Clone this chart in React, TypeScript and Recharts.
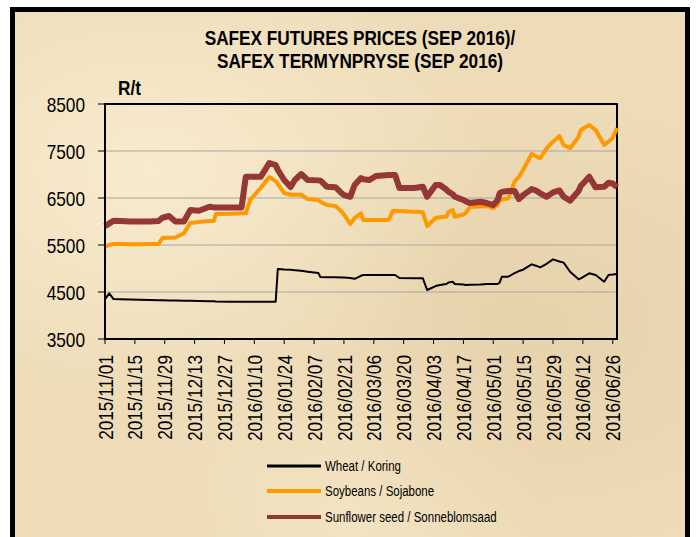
import { LineChart, Line, XAxis, YAxis, CartesianGrid, ReferenceArea, Legend } from 'recharts';

// days counted from 2015/11/01
const days = [
  0, 2, 4, 7, 12, 16, 21, 25, 27, 30,
  33, 37, 40, 44, 49, 51, 52, 59, 64, 66,
  68, 73, 77, 80, 81, 84, 87, 89, 92, 95,
  100, 101, 104, 108, 111, 112, 115, 117, 120, 121,
  124, 127, 133, 135, 136, 138, 145, 149, 151, 155,
  157, 160, 161, 163, 164, 168, 169, 171, 176, 179,
  182, 184, 185, 186, 189, 192, 194, 196, 200, 202,
  204, 207, 210, 213, 215, 218, 222, 223, 227, 230,
  234, 236, 238, 240,
];

const wheat = [
  4350, 4470, 4350, 4345, 4340, 4335, 4330, 4325, 4325, 4320,
  4320, 4315, 4315, 4310, 4305, 4305, 4300, 4295, 4293, 4293,
  4293, 4293, 4293, 4293, 4989, 4980, 4975, 4965, 4950, 4931,
  4904, 4819, 4815, 4812, 4810, 4810, 4800, 4780, 4845, 4861,
  4861, 4861, 4861, 4861, 4861, 4797, 4795, 4790, 4542, 4627,
  4650, 4670, 4700, 4719, 4670, 4660, 4650, 4655, 4660, 4670,
  4670, 4670, 4700, 4825, 4825, 4900, 4946, 4975, 5088, 5060,
  5025, 5100, 5195, 5150, 5125, 4931, 4769, 4790, 4897, 4861,
  4719, 4861, 4870, 4882,
];

const soybeans = [
  5463, 5500, 5520, 5520, 5515, 5515, 5520, 5520, 5650, 5655,
  5660, 5750, 5970, 5990, 6010, 6010, 6160, 6165, 6174, 6174,
  6457, 6712, 6947, 6860, 6800, 6606, 6570, 6570, 6570, 6478,
  6457, 6420, 6350, 6330, 6210, 6150, 5946, 6074, 6174, 6032,
  6032, 6032, 6032, 6230, 6230, 6225, 6210, 6195, 5904, 6074,
  6090, 6100, 6200, 6245, 6100, 6150, 6174, 6308, 6320, 6330,
  6280, 6350, 6457, 6470, 6490, 6847, 6950, 7095, 7436, 7390,
  7345, 7557, 7698, 7819, 7627, 7557, 7800, 7947, 8053, 7947,
  7627, 7698, 7776, 7989,
];

const sunflower = [
  5900, 5960, 6017, 6010, 6000, 6000, 6000, 6010, 6080, 6117,
  6000, 6000, 6245, 6230, 6315, 6300, 6300, 6300, 6300, 6950,
  6950, 6950, 7245, 7200, 7100, 6883, 6734, 6883, 7010, 6883,
  6875, 6870, 6740, 6730, 6600, 6563, 6527, 6776, 6925, 6900,
  6883, 6968, 6990, 6990, 6990, 6712, 6712, 6740, 6527, 6776,
  6776, 6680, 6634, 6580, 6527, 6457, 6430, 6393, 6420, 6393,
  6350, 6450, 6600, 6630, 6650, 6650, 6478, 6560, 6690, 6660,
  6600, 6527, 6620, 6660, 6527, 6443, 6650, 6755, 6953, 6727,
  6740, 6825, 6810, 6727,
];

const tickDays = [0, 14, 28, 42, 56, 70, 84, 98, 112, 126, 140, 154, 168, 182, 196, 210, 224, 238];
const tickLabels = [
  '2015/11/01', '2015/11/15', '2015/11/29', '2015/12/13', '2015/12/27', '2016/01/10',
  '2016/01/24', '2016/02/07', '2016/02/21', '2016/03/06', '2016/03/20', '2016/04/03',
  '2016/04/17', '2016/05/01', '2016/05/15', '2016/05/29', '2016/06/12', '2016/06/26',
];
const yTicks = [3500, 4500, 5500, 6500, 7500, 8500];

const seriesNames = ['Wheat / Koring', 'Soybeans / Sojabone', 'Sunflower seed / Sonneblomsaad'];
const COLORS = ['#000000', '#FF9900', '#953735'];
const WIDTHS = [2, 4, 6];

const data = days.map((d, i) => ({
  day: d,
  wheat: wheat[i],
  soybeans: soybeans[i],
  sunflower: sunflower[i],
}));

// no narrow font available, so squeeze Liberation Sans
const FONT = "'Liberation Sans', Arial, sans-serif";
const SQUEEZE = 0.82;

const DateTick = (props: any) => {
  const { x, y, payload } = props;
  const idx = tickDays.indexOf(payload.value);
  return (
    <text
      transform={`translate(${x}, ${y}) rotate(-90) scale(${SQUEEZE}, 1)`}
      x={0}
      y={0}
      textAnchor="end"
      dy="0.36em"
      fontSize={21}
      fontFamily={FONT}
      fill="#000"
    >
      {idx >= 0 ? tickLabels[idx] : ''}
    </text>
  );
};

const ValueTick = (props: any) => {
  const { x, y, payload } = props;
  return (
    <text
      transform={`translate(${x}, ${y}) scale(${SQUEEZE}, 1)`}
      x={0}
      y={0}
      textAnchor="end"
      dy="0.36em"
      fontSize={21}
      fontFamily={FONT}
      fill="#000"
    >
      {payload.value}
    </text>
  );
};

const LegendBox = () => (
  <div style={{ fontFamily: FONT, fontSize: 14, color: '#000', whiteSpace: 'nowrap' }}>
    {seriesNames.map((name, i) => (
      <div key={name} style={{ display: 'flex', alignItems: 'center', height: 25.5 }}>
        <svg width={58} height={8} style={{ flex: 'none' }}>
          <line x1={0} y1={4} x2={54} y2={4} stroke={COLORS[i]} strokeWidth={i === 0 ? 3 : 4} />
        </svg>
        <span style={{ display: 'inline-block', transform: `scaleX(${SQUEEZE})`, transformOrigin: 'left center' }}>
          {name}
        </span>
      </div>
    ))}
  </div>
);

const App = () => {
  return (
    <div
      style={{
        position: 'absolute',
        left: 10,
        top: 7,
        width: 670,
        height: 525,
        borderLeft: '5px solid #000',
        borderRight: '5px solid #000',
        borderTop: '5px solid #000',
        background:
          'radial-gradient(ellipse at 20% 30%, rgba(255,245,220,0.6), rgba(255,245,220,0) 45%),' +
          'radial-gradient(ellipse at 75% 60%, rgba(215,190,145,0.35), rgba(215,190,145,0) 50%),' +
          'radial-gradient(ellipse at 50% 90%, rgba(250,235,205,0.5), rgba(250,235,205,0) 40%),' +
          '#EEDCB8',
        overflow: 'hidden',
      }}
    >
      <div
        style={{
          position: 'absolute',
          left: 0,
          width: 690,
          top: 14,
          textAlign: 'center',
          fontFamily: FONT,
          fontWeight: 'bold',
          fontSize: 21,
          lineHeight: '23px',
          color: '#000',
          transform: `scaleX(${SQUEEZE})`,
          transformOrigin: '345px 0',
        }}
      >
        SAFEX FUTURES PRICES (SEP 2016)/
        <br />
        SAFEX TERMYNPRYSE (SEP 2016)
      </div>
      <div
        style={{
          position: 'absolute',
          left: 103,
          top: 64,
          fontFamily: FONT,
          fontWeight: 'bold',
          fontSize: 21,
          color: '#000',
          transform: `scaleX(${SQUEEZE})`,
          transformOrigin: 'left top',
        }}
      >
        R/t
      </div>
      <LineChart
        width={670}
        height={525}
        data={data}
        margin={{ top: 92, right: 68, bottom: 78, left: 10 }}
      >
        <CartesianGrid vertical={false} stroke="#A6A6A6" strokeWidth={1} />
        <XAxis
          dataKey="day"
          type="number"
          domain={[0, 240]}
          ticks={tickDays}
          interval={0}
          height={120}
          tickSize={5}
          tickMargin={11}
          tick={<DateTick />}
          axisLine={{ stroke: '#000', strokeWidth: 2 }}
          tickLine={{ stroke: '#000', strokeWidth: 1 }}
        />
        <YAxis
          domain={[3500, 8500]}
          ticks={yTicks}
          interval={0}
          width={80}
          tickSize={7}
          tickMargin={13}
          tick={<ValueTick />}
          axisLine={{ stroke: '#000', strokeWidth: 2 }}
          tickLine={{ stroke: '#000', strokeWidth: 1 }}
        />
        <ReferenceArea x1={0} x2={240} y1={3500} y2={8500} fill="none" stroke="#000" strokeWidth={2} />
        <Line
          type="linear"
          dataKey="wheat"
          name={seriesNames[0]}
          stroke={COLORS[0]}
          strokeWidth={WIDTHS[0]}
          dot={false}
          strokeLinejoin="round"
          isAnimationActive={false}
        />
        <Line
          type="linear"
          dataKey="soybeans"
          name={seriesNames[1]}
          stroke={COLORS[1]}
          strokeWidth={WIDTHS[1]}
          dot={false}
          strokeLinejoin="round"
          isAnimationActive={false}
        />
        <Line
          type="linear"
          dataKey="sunflower"
          name={seriesNames[2]}
          stroke={COLORS[2]}
          strokeWidth={WIDTHS[2]}
          dot={false}
          strokeLinejoin="round"
          isAnimationActive={false}
        />
        <Legend
          layout="vertical"
          align="center"
          verticalAlign="middle"
          content={<LegendBox />}
          wrapperStyle={{ top: 441, left: 252, width: 300 }}
        />
      </LineChart>
    </div>
  );
};

export default App;
